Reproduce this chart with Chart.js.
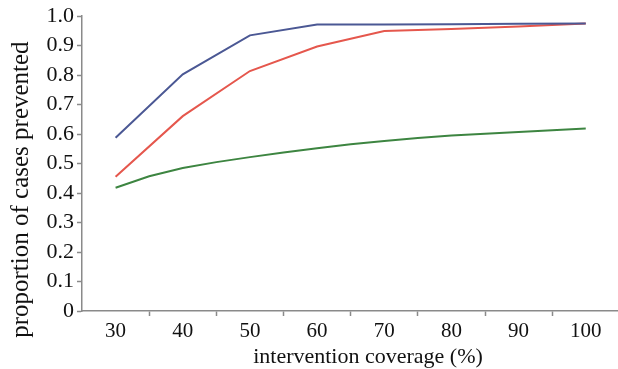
<!DOCTYPE html>
<html>
<head>
<meta charset="utf-8">
<script src="https://cdn.jsdelivr.net/npm/chart.js@4/dist/chart.umd.min.js"></script>
<style>
  html, body { margin: 0; padding: 0; background: #ffffff; }
  #c { display: block; }
</style>
</head>
<body>
<canvas id="c" width="618" height="369"></canvas>
<script>
// ---- data ----
const coverageCoarse = [30, 40, 50, 60, 70, 80, 90, 100];
const coverageFine = [30, 35, 40, 45, 50, 55, 60, 65, 70, 75, 80, 85, 90, 95, 100];
const blueSeries  = [0.588, 0.803, 0.935, 0.972, 0.972, 0.973, 0.974, 0.975];
const redSeries   = [0.455, 0.661, 0.814, 0.897, 0.950, 0.957, 0.965, 0.975];
const greenSeries = [0.418, 0.457, 0.485, 0.505, 0.522, 0.538, 0.552, 0.566, 0.577, 0.587, 0.595, 0.601, 0.607, 0.613, 0.619];
const xTickLabels = [30, 40, 50, 60, 70, 80, 90, 100];
const yTickLabels = ['0', '0.1', '0.2', '0.3', '0.4', '0.5', '0.6', '0.7', '0.8', '0.9', '1.0'];
const xTitle = 'intervention coverage (%)';
const yTitle = 'proportion of cases prevented';

const toPoints = (xs, ys) => xs.map((x, i) => ({ x: x, y: ys[i] }));
const AXIS = '#8a8a8a';
const FONT = "'Liberation Serif', 'Times New Roman', serif";

// tick positions: labels at the values, tick marks midway between them
const xTickValues = [];
xTickLabels.forEach((v, i) => {
  xTickValues.push(v);
  if (i < xTickLabels.length - 1) xTickValues.push((v + xTickLabels[i + 1]) / 2);
});

// axis titles placed like the reference (slightly off-centre)
const axisTitlesPlugin = {
  id: 'axisTitles',
  afterDraw(chart) {
    const { ctx, chartArea } = chart;
    ctx.save();
    ctx.fillStyle = '#111';
    ctx.textAlign = 'center';
    ctx.textBaseline = 'middle';
    ctx.font = '22px ' + FONT;
    ctx.fillText(xTitle, (chartArea.left + chartArea.right) / 2 + 18, chartArea.bottom + 46);
    ctx.translate(21, (chartArea.top + chartArea.bottom) / 2 + 26);
    ctx.rotate(-Math.PI / 2);
    ctx.font = '25px ' + FONT;
    ctx.fillText(yTitle, 0, 0);
    ctx.restore();
  }
};

new Chart(document.getElementById('c'), {
  type: 'line',
  data: {
    datasets: [
      { data: toPoints(coverageCoarse, blueSeries), borderColor: '#4b5894', borderWidth: 2 },
      { data: toPoints(coverageCoarse, redSeries), borderColor: '#e5574d', borderWidth: 2 },
      { data: toPoints(coverageFine, greenSeries), borderColor: '#3d8541', borderWidth: 2 }
    ]
  },
  plugins: [axisTitlesPlugin],
  options: {
    responsive: false,
    animation: false,
    events: [],
    layout: { padding: { top: 16, right: 0, bottom: 0, left: 0 } },
    elements: { point: { radius: 0 }, line: { tension: 0 } },
    plugins: { legend: { display: false }, tooltip: { enabled: false } },
    scales: {
      x: {
        type: 'linear',
        min: 25,
        max: 104.8,
        afterFit: (s) => { s.height = 58; },
        afterBuildTicks: (s) => { s.ticks = xTickValues.map(v => ({ value: v })); },
        border: { color: AXIS, width: 1.5 },
        grid: {
          drawOnChartArea: false,
          tickLength: 5,
          tickColor: (ctx) => (xTickLabels.includes(ctx.tick && ctx.tick.value) ? 'rgba(0,0,0,0)' : AXIS),
          tickWidth: 1.5
        },
        ticks: {
          autoSkip: false,
          maxRotation: 0,
          padding: 3,
          color: '#111',
          font: { family: FONT, size: 21 },
          callback: (v) => (xTickLabels.includes(v) ? String(v) : '')
        },
        title: { display: false, text: xTitle }
      },
      y: {
        min: 0,
        max: 1,
        afterFit: (s) => { s.width = 82; },
        afterBuildTicks: (s) => { s.ticks = yTickLabels.map(t => ({ value: parseFloat(t) })); },
        border: { color: AXIS, width: 1.5 },
        grid: { drawOnChartArea: false, tickLength: 5, tickColor: AXIS, tickWidth: 1.5 },
        ticks: {
          padding: 3,
          color: '#111',
          font: { family: FONT, size: 22 },
          callback: (v, i) => yTickLabels[i]
        },
        title: { display: false, text: yTitle }
      }
    }
  }
});
</script>
</body>
</html>
